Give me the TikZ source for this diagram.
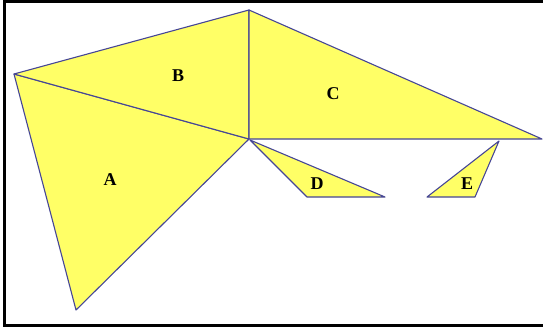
\documentclass[tikz,border=0pt]{standalone}
\usepackage{fontspec}
\setmainfont{Liberation Serif}
\definecolor{triyellow}{RGB}{255,255,102}
\definecolor{triedge}{RGB}{70,70,150}
\begin{document}
\begin{tikzpicture}[x=1pt,y=-1pt,
  tri/.style={fill=triyellow,draw=triedge,line width=1.1pt,line join=round},
  lab/.style={font=\bfseries\fontsize{18}{18}\selectfont,inner sep=0pt}]
\useasboundingbox (0,0) rectangle (543,329);
\fill[white] (0,0) rectangle (543,329);
\draw[black,line width=2.2pt] (560,1.5) -- (4.5,1.5) -- (4.5,325.5) -- (560,325.5);
\coordinate (T) at (249,10);
\coordinate (L) at (14,74);
\coordinate (M) at (249,139);
\coordinate (Ab) at (76,310);
\coordinate (R) at (542,139);
\coordinate (D1) at (250,140);
\coordinate (D2) at (307,197);
\coordinate (D3) at (385,197);
\coordinate (E1) at (499,141);
\coordinate (E2) at (427,197);
\coordinate (E3) at (475,197);
\draw[tri] (L) -- (M) -- (Ab) -- cycle;
\draw[tri] (L) -- (T) -- (M) -- cycle;
\draw[tri] (T) -- (R) -- (M) -- cycle;
\draw[tri] (D1) -- (D3) -- (D2) -- cycle;
\draw[tri] (E1) -- (E3) -- (E2) -- cycle;
\node[lab] (la) at (110,180) {A};
\node[lab] (lb) at (178,76) {B};
\node[lab] (lc) at (333,94) {C};
\node[lab] (ld) at (317,184) {D};
\node[lab] (le) at (467,184) {E};
\end{tikzpicture}
\end{document}
